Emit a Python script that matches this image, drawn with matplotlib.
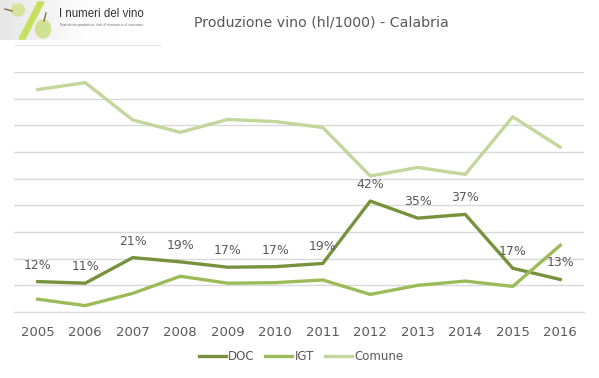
import matplotlib
matplotlib.use("Agg")
import matplotlib.pyplot as plt
from matplotlib.patches import Ellipse, Polygon
import numpy as np

years = ["2005", "2006", "2007", "2008", "2009", "2010", "2011", "2012", "2013", "2014", "2015", "2016"]
doc = [57, 54, 102, 94, 84, 85, 91, 208, 176, 183, 82, 61]
igt = [24, 12, 35, 67, 54, 55, 60, 33, 50, 58, 48, 125]
comune = [417, 430, 360, 337, 361, 357, 346, 255, 271, 258, 366, 309]
doc_pct = ["12%", "11%", "21%", "19%", "17%", "17%", "19%", "42%", "35%", "37%", "17%", "13%"]

C_DOC = "#76923c"
C_IGT = "#9bbb59"
C_COM = "#c3d69b"
TXT = "#595959"

fig = plt.figure(figsize=(5.99, 3.78), dpi=100)
W, H = 599, 378
ax = fig.add_axes([14 / W, 1 - 312 / H, (584 - 14) / W, (312 - 72) / H])

x = np.arange(len(years))
ax.plot(x, doc, color=C_DOC, lw=2.4, label="DOC", solid_joinstyle="round")
ax.plot(x, igt, color=C_IGT, lw=2.4, label="IGT", solid_joinstyle="round")
ax.plot(x, comune, color=C_COM, lw=2.4, label="Comune", solid_joinstyle="round")

for xi, v, t in zip(x, doc, doc_pct):
    ax.annotate(t, (xi, v), xytext=(0, 16.5), textcoords="offset pixels",
                ha="center", va="center", fontsize=9, color=TXT)

ax.set_xlim(-0.5, len(years) - 0.5)
ax.set_ylim(0, 450)
ax.set_yticks(np.arange(0, 451, 50))
ax.yaxis.grid(True, color="#d9d9d9", lw=1)
ax.set_axisbelow(True)
ax.tick_params(axis="y", left=False, labelleft=False)
ax.set_xticks(x)
ax.set_xticklabels(years, fontsize=9.5, color=TXT)
ax.tick_params(axis="x", length=0, pad=10)
for s in ["top", "left", "right"]:
    ax.spines[s].set_visible(False)
ax.spines["bottom"].set_color("#d9d9d9")

leg = fig.legend(loc="center", bbox_to_anchor=(301 / W, 1 - 357 / H), ncol=3, frameon=False,
                 fontsize=8.5, handlelength=2.3, handletextpad=0.2, columnspacing=0.9)
for t in leg.get_texts():
    t.set_color(TXT)

fig.text(321 / W, 1 - 22 / H, "Produzione vino (hl/1000) - Calabria", ha="center", va="center",
         fontsize=10.2, color=TXT)

# logo
grad = np.concatenate([np.linspace(0.90, 0.99, 60), np.linspace(0.99, 1.0, 40)]).reshape(1, -1)
lax = fig.add_axes([0, 1 - 40 / H, 140 / W, 40 / H])
lax.imshow(grad, aspect="auto", cmap="gray", vmin=0, vmax=1, extent=[0, 140, 40, 0])
lax.set_xlim(0, 140)
lax.set_ylim(40, 0)
lax.axis("off")
lax.add_patch(Polygon([[19, 39], [25, 39], [44, 2], [38, 2]], closed=True, color="#c8df5e", zorder=3))
lax.add_patch(Ellipse((18, 10), 13, 12, color="#d4e49c", zorder=4))
lax.add_patch(Ellipse((43, 29), 15, 18, color="#d0e194", zorder=4))
lax.plot([5, 12], [9, 11], color="#8a6a3a", lw=1, zorder=5)
lax.plot([44, 46], [21, 13], color="#8a6a3a", lw=1, zorder=5)
lax.text(59, 14, "I numeri del vino", fontsize=8.3, color="#333333", va="center", ha="left",
         family=["Liberation Sans", "DejaVu Sans"])
lax.text(60, 25, "Statistiche produttive, dati di mercato e di consumo.", fontsize=2.3, color="#666666",
         va="center", ha="left")
fig.add_artist(plt.Line2D([15 / W, 160 / W], [1 - 45 / H, 1 - 45 / H], color="#e6e6e6", lw=0.8))

fig.savefig("out.png", dpi=100, facecolor="white")
